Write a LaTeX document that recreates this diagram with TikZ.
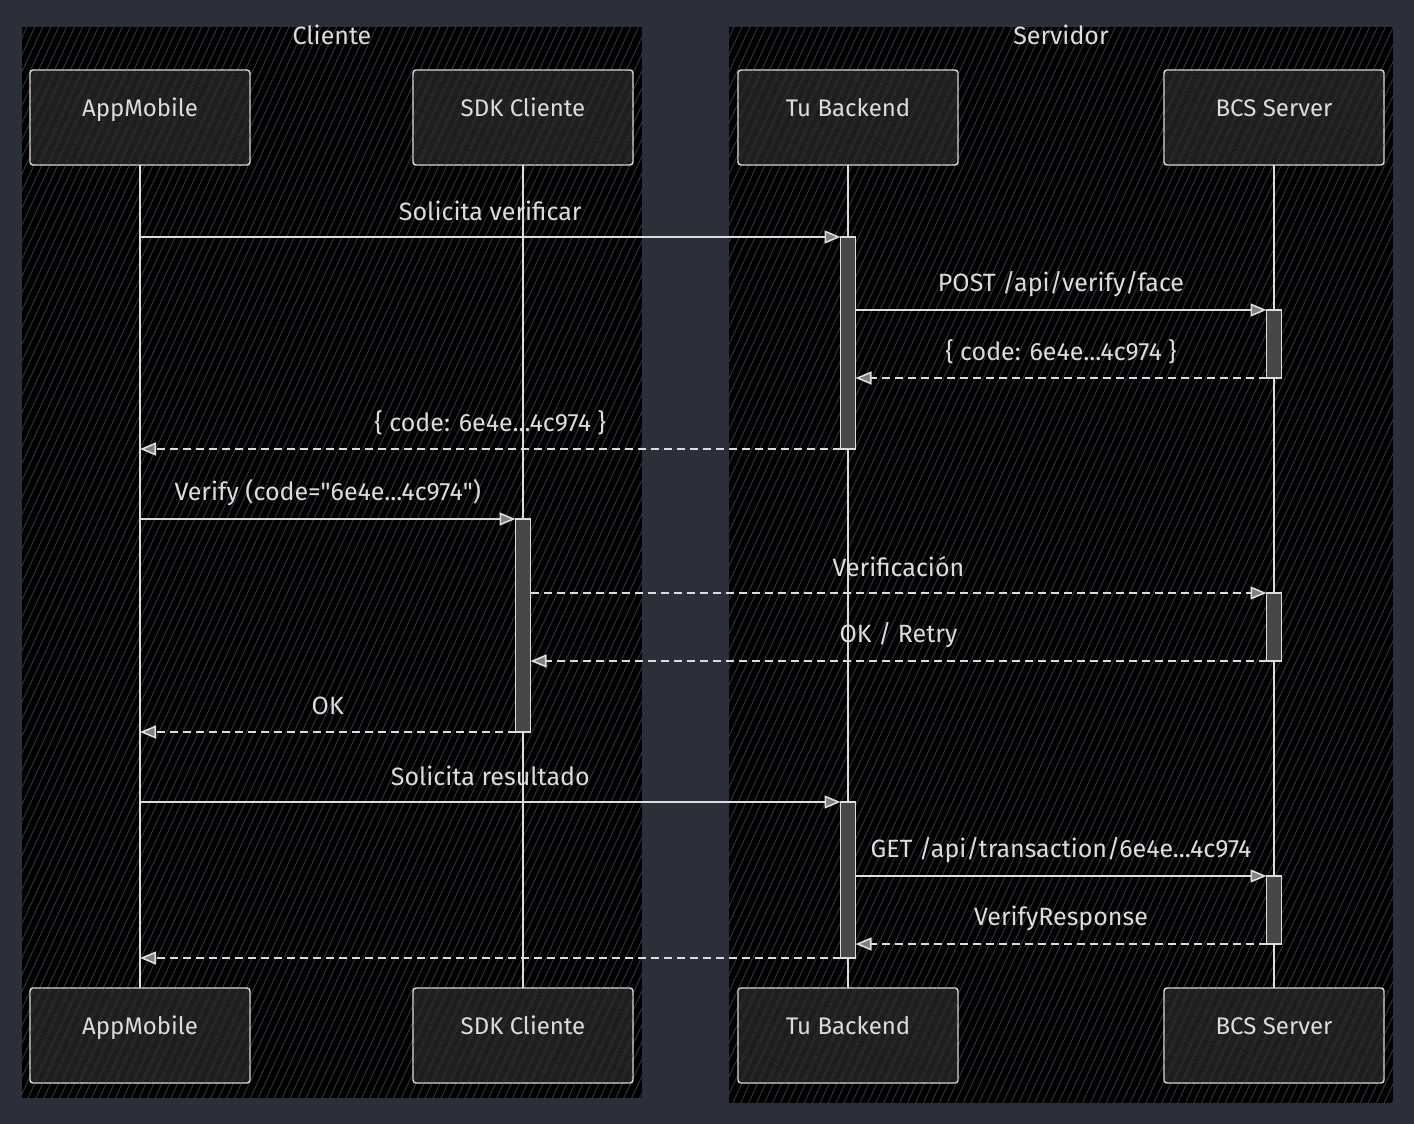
\documentclass[tikz,border=0pt]{standalone}
\usepackage{fontspec}
\setmainfont{Fira Sans}
\newfontfamily\straightq{Fira Sans}[Ligatures=TeXOff]
\usetikzlibrary{positioning, arrows.meta, patterns.meta}
\definecolor{bgcolor}{HTML}{2B2F3A}
\definecolor{ink}{HTML}{DCDCDC}
\definecolor{boxfill}{HTML}{1E1E1E}
\definecolor{actfill}{HTML}{474747}
\tikzset{
	panel/.style={
		fill=black,
		postaction={pattern={Lines[angle=65, distance=3.6pt, line width=0.55pt]}, pattern color=bgcolor}
	},
	grouplbl/.style={
		text=ink,
		inner sep=0pt,
		font=\fontsize{12.5}{14}\selectfont
	},
	actor/.style={
		draw=ink,
		fill=boxfill,
		line width=0.7pt,
		rounded corners=1.5pt,
		text=ink,
		text height=8.5pt,
		text depth=9.5pt,
		minimum width=110pt,
		minimum height=47.5pt,
		outer sep=0pt,
		font=\fontsize{12}{14}\selectfont,
		postaction={pattern={Lines[angle=65, distance=4pt, line width=0.3pt]}, pattern color=bgcolor!40!boxfill}
	},
	life/.style={
		draw=ink,
		line width=0.8pt
	},
	actbox/.style={
		draw=ink,
		fill=actfill,
		line width=0.6pt,
		inner sep=0pt,
		outer sep=0pt,
		minimum width=7.5pt,
		anchor=north
	},
	msg/.style={
		draw=ink,
		line width=0.8pt,
		-{Triangle[length=8pt, width=6.5pt, fill=gray]}
	},
	reply/.style={
		msg,
		dash pattern=on 4pt off 2.5pt
	},
	labe/.style={
		midway,
		yshift=13pt,
		inner sep=0pt,
		text=ink,
		font=\fontsize{12.5}{14}\selectfont
	}
}

\begin{document}
\begin{tikzpicture}[x=0.5pt, y=-0.5pt]

% background and groups
\fill[bgcolor] (0,0) rectangle (1414,1124);
\path[panel] (22,27) rectangle (642,1098);
\path[panel] (729,27) rectangle (1393,1103);
\node(cliente)[grouplbl] at (332,35) {Cliente};
\node(servidor)[grouplbl] at (1061,35) {Servidor};

% participants
\node(app)[actor] at (140,117.5) {AppMobile};
\node(sdk)[actor] at (523,117.5) {SDK Cliente};
\node(back)[actor] at (848,117.5) {Tu Backend};
\node(bcs)[actor] at (1274,117.5) {BCS Server};

\node(appB)[actor] at (140,1035.5) {AppMobile};
\node(sdkB)[actor] at (523,1035.5) {SDK Cliente};
\node(backB)[actor] at (848,1035.5) {Tu Backend};
\node(bcsB)[actor] at (1274,1035.5) {BCS Server};

\draw[life] (app) -- (appB);
\draw[life] (sdk) -- (sdkB);
\draw[life] (back) -- (backB);
\draw[life] (bcs) -- (bcsB);

% activations
\node(act1)[actbox, minimum height=106pt] at (back.south |- 0,237) {};
\node(act2)[actbox, minimum height=34pt] at (bcs.south |- 0,310) {};
\node(act3)[actbox, minimum height=106.5pt] at (sdk.south |- 0,519) {};
\node(act4)[actbox, minimum height=34pt] at (bcs.south |- 0,593) {};
\node(act5)[actbox, minimum height=78pt] at (back.south |- 0,802) {};
\node(act6)[actbox, minimum height=34pt] at (bcs.south |- 0,876) {};

% messages
\draw[msg] (app.south |- act1.north) -- node[labe]{Solicita verificar} (act1.north west);
\draw[msg] (act1.east |- act2.north) -- node[labe]{POST /api/verify/face} (act2.north west);
\draw[reply] (act2.south west) -- node[labe]{\{ code: 6e4e...4c974 \}} (act1.east |- act2.south);
\draw[reply] (act1.south west) -- node[labe]{\{ code: 6e4e...4c974 \}} (app.south |- act1.south);

\draw[msg] (app.south |- act3.north) -- node[labe]{Verify (code={\straightq"}6e4e...4c974{\straightq"})} (act3.north west);
\draw[reply] (act3.east |- act4.north) -- node[labe]{Verificación} (act4.north west);
\draw[reply] (act4.south west) -- node[labe]{OK / Retry} (act3.east |- act4.south);
\draw[reply] (act3.south west) -- node[labe]{OK} (app.south |- act3.south);

\draw[msg] (app.south |- act5.north) -- node[labe]{Solicita resultado} (act5.north west);
\draw[msg] (act5.east |- act6.north) -- node[labe]{GET /api/transaction/6e4e...4c974} (act6.north west);
\draw[reply] (act6.south west) -- node[labe]{VerifyResponse} (act5.east |- act6.south);
\draw[reply] (act5.south west) -- (app.south |- act5.south);
\end{tikzpicture}
\end{document}
